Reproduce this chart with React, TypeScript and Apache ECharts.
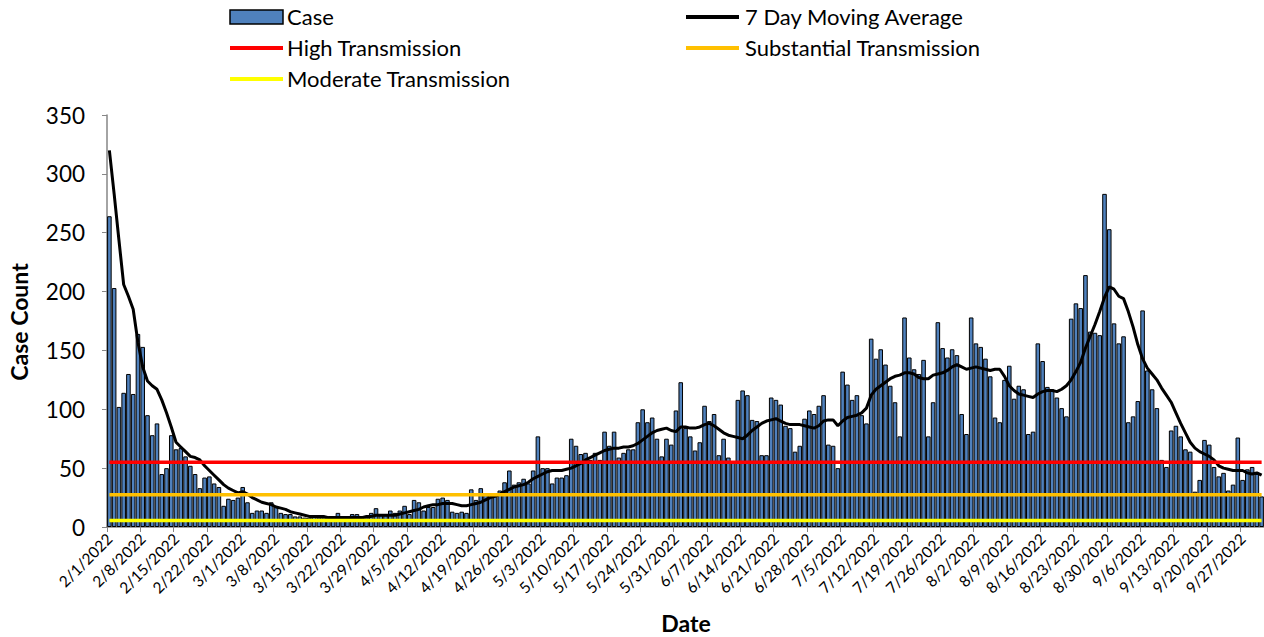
import React, { useEffect, useRef } from "react";
import * as echarts from "echarts";

const START = { y: 2022, m: 2, d: 1 };
const DAY_COUNT = 243;

const cases = [
  264, 203, 102, 114, 130, 113, 164, 153, 95, 78, 88, 45, 50, 78, 66, 67, 60, 52, 45, 33,
  42, 43, 37, 34, 18, 24, 23, 25, 34, 21, 12, 14, 14, 12, 21, 17, 12, 11, 11, 9,
  9, 8, 8, 9, 8, 8, 8, 9, 12, 9, 8, 11, 11, 8, 8, 12, 16, 10, 10, 14,
  12, 14, 18, 11, 23, 21, 14, 17, 17, 24, 25, 23, 13, 12, 13, 12, 32, 23, 33, 28,
  28, 28, 31, 38, 48, 36, 38, 41, 37, 48, 77, 50, 50, 37, 42, 42, 44, 75, 69, 62,
  63, 57, 63, 57, 81, 69, 81, 59, 63, 66, 66, 89, 100, 89, 93, 75, 60, 75, 70, 99,
  123, 84, 77, 65, 72, 103, 90, 96, 61, 75, 59, 55, 108, 116, 112, 91, 90, 61, 61, 110,
  108, 104, 86, 84, 64, 69, 92, 99, 96, 103, 112, 70, 69, 50, 132, 121, 108, 112, 95, 88,
  160, 143, 151, 138, 120, 106, 77, 178, 144, 134, 130, 142, 77, 106, 174, 152, 144, 151, 146, 96,
  79, 178, 156, 153, 143, 128, 93, 89, 125, 137, 109, 120, 117, 79, 81, 156, 141, 119, 117, 110,
  101, 94, 177, 190, 186, 214, 166, 165, 163, 283, 253, 173, 156, 162, 89, 94, 107, 184, 133, 117,
  101, 57, 51, 82, 86, 77, 66, 64, 30, 40, 74, 70, 51, 43, 46, 31, 36, 76, 40, 49,
  51, 45, 26,
];

const movingAvg = [
  320, 283, 244, 206, 196, 185, 157, 136, 124, 120, 117, 108, 97, 85, 72, 68, 64, 60, 59, 57,
  52, 48, 44, 40, 36, 33, 31, 29, 30, 28, 25, 23, 21, 20, 19, 17, 16, 15, 13, 12,
  11, 10, 9, 9, 9, 9, 8, 8, 8, 8, 8, 8, 8, 8, 9, 9, 10, 10, 10, 10,
  10, 11, 12, 13, 14, 15, 17, 18, 19, 19, 20, 20, 20, 19, 18, 18, 19, 20, 21, 23,
  25, 26, 28, 30, 32, 34, 35, 36, 38, 41, 43, 45, 47, 48, 48, 48, 49, 50, 52, 54,
  57, 59, 61, 63, 65, 66, 67, 67, 68, 68, 69, 71, 74, 77, 80, 82, 83, 84, 82, 81,
  85, 85, 84, 84, 85, 87, 88, 86, 83, 80, 78, 77, 76, 75, 78, 82, 85, 88, 90, 91,
  92, 90, 88, 87, 87, 87, 86, 85, 84, 86, 90, 91, 91, 86, 90, 93, 94, 95, 97, 101,
  112, 117, 120, 123, 126, 128, 129, 131, 131, 130, 127, 126, 126, 129, 130, 131, 133, 136, 138, 136,
  134, 135, 136, 135, 134, 133, 134, 134, 128, 120, 116, 113, 112, 111, 110, 113, 115, 116, 116, 115,
  117, 120, 125, 132, 140, 152, 162, 172, 183, 195, 204, 202, 196, 194, 183, 170, 155, 143, 135, 130,
  125, 118, 112, 106, 97, 88, 80, 72, 67, 64, 62, 60, 57, 52, 50, 49, 48, 48, 48, 46,
  45, 46, 44,
];

const HIGH = 55;
const SUBSTANTIAL = 27.5;
const MODERATE = 5.5;

const yTicks = [0, 50, 100, 150, 200, 250, 300, 350];

const BAR_COLOR = "#4F81BD";
const MA_COLOR = "#000000";
const HIGH_COLOR = "#FF0000";
const SUB_COLOR = "#FFC000";
const MOD_COLOR = "#FFFF00";

function buildDates(): string[] {
  const out: string[] = [];
  const base = new Date(START.y, START.m - 1, START.d);
  for (let i = 0; i < DAY_COUNT; i++) {
    const d = new Date(base.getFullYear(), base.getMonth(), base.getDate() + i);
    out.push(`${d.getMonth() + 1}/${d.getDate()}/${d.getFullYear()}`);
  }
  return out;
}

const FONT = "Lato";

function legendEntries() {
  const items: any[] = [];
  const txt = (x: number, y: number, s: string) => ({
    type: "text",
    x,
    y,
    style: { text: s, fontSize: 22, fontFamily: FONT, fill: "#000", verticalAlign: "middle", align: "left" },
  });
  const ln = (x: number, y: number, color: string) => ({
    type: "line",
    shape: { x1: x, y1: y, x2: x + 53, y2: y },
    style: { stroke: color, lineWidth: 4 },
  });
  items.push({
    type: "rect",
    shape: { x: 230, y: 10, width: 53, height: 14 },
    style: { fill: BAR_COLOR, stroke: "#000", lineWidth: 1.5 },
  });
  items.push(txt(287, 16, "Case"));
  items.push(ln(686, 17, MA_COLOR));
  items.push(txt(745, 16, "7 Day Moving Average"));
  items.push(ln(230, 48, HIGH_COLOR));
  items.push(txt(287, 47, "High Transmission"));
  items.push(ln(686, 48, SUB_COLOR));
  items.push(txt(745, 47, "Substantial Transmission"));
  items.push(ln(230, 79, MOD_COLOR));
  items.push(txt(287, 78, "Moderate Transmission"));
  return items;
}

export default function App() {
  const ref = useRef<HTMLDivElement>(null);
  useEffect(() => {
    if (!ref.current) return;
    const chart = echarts.init(ref.current, undefined, { renderer: "svg" });
    const dates = buildDates();
    chart.setOption({
      animation: false,
      backgroundColor: "#fff",
      grid: { left: 107, right: 0, top: 115, bottom: 110, containLabel: false },
      xAxis: {
        type: "category",
        data: dates,
        boundaryGap: true,
        axisLine: { lineStyle: { color: "#868686", width: 1.5 } },
        axisTick: { show: true, interval: 6, alignWithLabel: false, length: 5, lineStyle: { color: "#868686" } },
        axisLabel: {
          interval: 6,
          rotate: 45,
          fontSize: 15.5,
          fontFamily: FONT,
          color: "#000",
          margin: 9,
        },
        splitLine: { show: false },
      },
      yAxis: {
        type: "value",
        min: yTicks[0],
        max: yTicks[yTicks.length - 1],
        interval: 50,
        axisLine: { show: true, lineStyle: { color: "#868686", width: 1.5 } },
        axisTick: { show: true, length: 5, lineStyle: { color: "#868686" } },
        axisLabel: { fontSize: 22.5, fontFamily: FONT, color: "#000", margin: 22 },
        splitLine: { show: false },
      },
      graphic: [
        ...legendEntries(),
        {
          type: "text",
          x: 19,
          y: 322,
          rotation: Math.PI / 2,
          style: {
            text: "Case Count",
            fontSize: 23,
            fontWeight: "bold",
            fontFamily: FONT,
            fill: "#000",
            align: "center",
            verticalAlign: "middle",
          },
        },
        {
          type: "text",
          x: 686,
          y: 623,
          style: {
            text: "Date",
            fontSize: 23,
            fontWeight: "bold",
            fontFamily: FONT,
            fill: "#000",
            align: "center",
            verticalAlign: "middle",
          },
        },
      ],
      series: [
        {
          name: "Case",
          type: "bar",
          data: cases,
          barCategoryGap: "4%",
          itemStyle: { color: BAR_COLOR, borderColor: "#000", borderWidth: 1 },
        },
        {
          name: "7 Day Moving Average",
          type: "line",
          data: movingAvg,
          symbol: "none",
          lineStyle: { color: MA_COLOR, width: 3 },
          itemStyle: { color: MA_COLOR },
        },
        {
          name: "High Transmission",
          type: "line",
          data: dates.map(() => HIGH),
          symbol: "none",
          lineStyle: { color: HIGH_COLOR, width: 3.5 },
          itemStyle: { color: HIGH_COLOR },
        },
        {
          name: "Substantial Transmission",
          type: "line",
          data: dates.map(() => SUBSTANTIAL),
          symbol: "none",
          lineStyle: { color: SUB_COLOR, width: 3.5 },
          itemStyle: { color: SUB_COLOR },
        },
        {
          name: "Moderate Transmission",
          type: "line",
          data: dates.map(() => MODERATE),
          symbol: "none",
          lineStyle: { color: MOD_COLOR, width: 3.5 },
          itemStyle: { color: MOD_COLOR },
        },
      ],
    });
    return () => chart.dispose();
  }, []);
  return (
    <div
      ref={ref}
      style={{ position: "absolute", left: 0, top: 0, width: 1264, height: 637 }}
    />
  );
}
